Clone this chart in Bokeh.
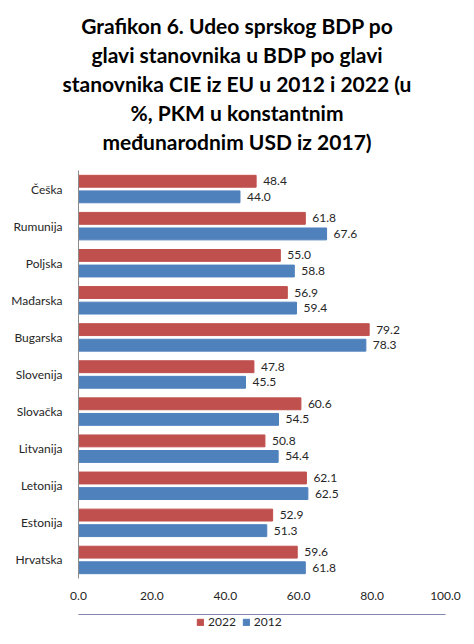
"""
plot.py - Grafikon 6: udeo srpskog BDP po glavi stanovnika u BDP zemalja CIE iz EU.
"""

from html import escape

from bokeh.core.properties import value
from bokeh.embed import file_html
from bokeh.layouts import column
from bokeh.models import (ColumnDataSource, Div, FactorRange, FixedTicker, Legend,
                          LegendItem, Range1d)
from bokeh.plotting import figure
from bokeh.resources import INLINE
from bokeh.transform import dodge

# ---------------------------------------------------------------------------
# Data (top to bottom as in the chart)
# ---------------------------------------------------------------------------
countries  = ["Češka", "Rumunija", "Poljska", "Mađarska", "Bugarska", "Slovenija",
              "Slovačka", "Litvanija", "Letonija", "Estonija", "Hrvatska"]
share_2022 = [48.4, 61.8, 55.0, 56.9, 79.2, 47.8, 60.6, 50.8, 62.1, 52.9, 59.6]
share_2012 = [44.0, 67.6, 58.8, 59.4, 78.3, 45.5, 54.5, 54.4, 62.5, 51.3, 61.8]
x_ticks    = [0, 20, 40, 60, 80, 100]
years      = ["2022", "2012"]
title_lines = [
    "Grafikon 6. Udeo sprskog BDP po",
    "glavi stanovnika u BDP po glavi",
    "stanovnika CIE iz EU u 2012 i 2022 (u",
    "%, PKM u konstantnim",
    "međunarodnim USD iz 2017)",
]

RED   = "#C0504D"
BLUE  = "#4F81BD"
FONT  = "Lato"
TEXT  = "#262626"

# frame geometry shared by the stacked figures
FRAME_W, LEFT, RIGHT = 367, 78, 29
WIDTH = LEFT + FRAME_W + RIGHT

# ---------------------------------------------------------------------------
# Title block
# ---------------------------------------------------------------------------
head = Div(
    text=("<div style=\"font-family:Lato;font-weight:bold;font-size:21px;"
          "line-height:29px;text-align:center;color:black;white-space:nowrap;"
          f"padding-top:11px;width:{WIDTH}px\">"
          + "<br>".join(escape(t) for t in title_lines) + "</div>"),
    width=WIDTH, height=170, margin=0,
)

# ---------------------------------------------------------------------------
# Bar chart
# ---------------------------------------------------------------------------
source = ColumnDataSource(dict(
    country=countries,
    v2022=share_2022,
    v2012=share_2012,
    l2022=[f"{v:.1f}" for v in share_2022],
    l2012=[f"{v:.1f}" for v in share_2012],
))

p = figure(
    frame_width=FRAME_W, frame_height=408,
    y_range=FactorRange(factors=list(reversed(countries))),
    x_range=Range1d(0, 100),
    output_backend="svg", toolbar_location=None,
    min_border_left=LEFT, min_border_right=RIGHT, min_border_top=0,
    min_border_bottom=36,
)
p.outline_line_color = None
p.xgrid.grid_line_color = None
p.ygrid.grid_line_color = None

p.hbar(y=dodge("country", 0.21, range=p.y_range), right="v2022", left=0,
       height=0.32, color=RED, source=source)
p.hbar(y=dodge("country", -0.21, range=p.y_range), right="v2012", left=0,
       height=0.32, color=BLUE, source=source)

for col, lab, off in (("v2022", "l2022", 0.21), ("v2012", "l2012", -0.21)):
    p.text(x=col, y=dodge("country", off, range=p.y_range), text=lab,
           x_offset=7, text_baseline="middle", text_align="left",
           text_font=value(FONT), text_font_size="12px", text_color=TEXT,
           source=source)

# axes
p.xaxis.ticker = FixedTicker(ticks=x_ticks)
p.xaxis.major_label_overrides = {t: f"{t:.1f}" for t in x_ticks}
p.xaxis.axis_line_color = None
p.xaxis.major_tick_line_color = None
p.xaxis.minor_tick_line_color = None
p.xaxis.major_label_standoff = 7
p.xaxis.major_label_text_font = FONT
p.xaxis.major_label_text_font_size = "12px"
p.xaxis.major_label_text_color = TEXT

p.yaxis.axis_line_color = "#8c8c8c"
p.yaxis.major_tick_line_color = None
p.yaxis.minor_tick_line_color = None
p.yaxis.major_label_standoff = 10
p.yaxis.major_label_text_font = FONT
p.yaxis.major_label_text_font_size = "12px"
p.yaxis.major_label_text_color = TEXT

# ---------------------------------------------------------------------------
# Legend strip underneath (swatch renderers sit outside the visible range)
# ---------------------------------------------------------------------------
foot = figure(width=WIDTH, height=30, x_range=Range1d(0, 1), y_range=Range1d(0, 1),
              x_axis_type=None, y_axis_type=None,
              output_backend="svg", toolbar_location=None,
              min_border_left=LEFT, min_border_right=RIGHT,
              min_border_top=0, min_border_bottom=0)
foot.outline_line_color = None
swatches = [foot.hbar(y=[5], right=[1], height=0.5, color=c) for c in (RED, BLUE)]
legend = Legend(
    items=[LegendItem(label=y, renderers=[r]) for y, r in zip(years, swatches)],
    orientation="horizontal", location=(118, 15),
    glyph_width=8, glyph_height=8, label_height=12, label_standoff=4,
    spacing=6, padding=0, margin=0, border_line_color=None,
    background_fill_alpha=0,
    label_text_font=FONT, label_text_font_size="12px", label_text_color=TEXT,
)
foot.add_layout(legend)

open("out.html", "w").write(file_html(column(head, p, foot), INLINE))
